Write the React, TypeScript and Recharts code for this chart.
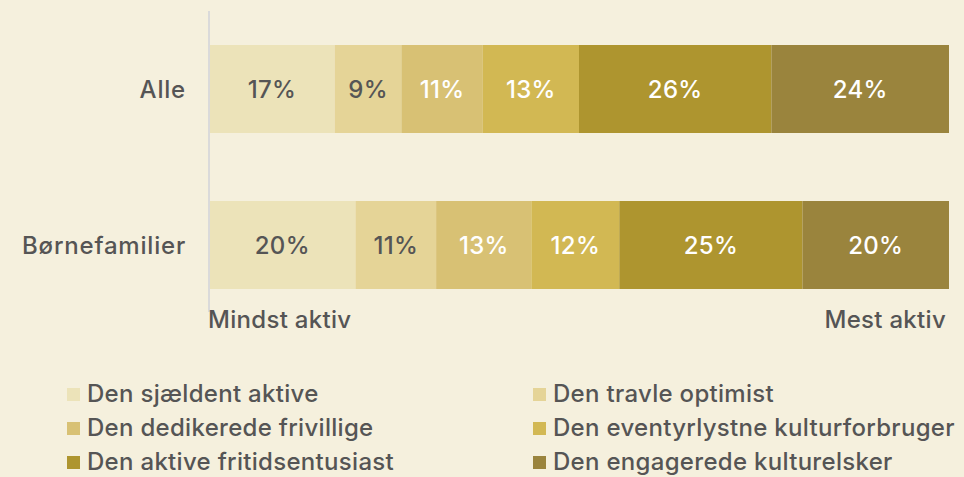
import { BarChart, Bar, XAxis, YAxis, LabelList } from "recharts";

const categories = ["Alle", "Børnefamilier"];

const seriesNames = [
  "Den sjældent aktive",
  "Den travle optimist",
  "Den dedikerede frivillige",
  "Den eventyrlystne kulturforbruger",
  "Den aktive fritidsentusiast",
  "Den engagerede kulturelsker",
];

const sjaeldent = [17, 20];
const travle = [9, 11];
const dedikerede = [11, 13];
const eventyr = [13, 12];
const aktive = [26, 25];
const engagerede = [24, 20];

const seriesValues = [sjaeldent, travle, dedikerede, eventyr, aktive, engagerede];
const colors = ["#ECE3B9", "#E5D497", "#D8C174", "#D2B853", "#AE952F", "#9A843D"];
const labelColors = ["#555555", "#555555", "#FFFFFF", "#FFFFFF", "#FFFFFF", "#FFFFFF"];

const axisEnds = ["Mindst aktiv", "Mest aktiv"];

const FONT = "Inter, 'Open Sans', sans-serif";

const data = categories.map((name, i) => {
  const row: Record<string, string | number> = { name };
  seriesValues.forEach((vals, s) => {
    row["s" + s] = vals[i];
  });
  return row;
});

const EndTick = (props: any) => {
  const { x, y, payload, index } = props;
  return (
    <text
      x={index === 0 ? x - 1 : x - 3}
      y={y + 16}
      textAnchor={index === 0 ? "start" : "end"}
      fill="#555555"
      fontSize={24}
      fontFamily={FONT}
      fontWeight={500}
      letterSpacing={0.3}
    >
      {axisEnds[index] ?? payload.value}
    </text>
  );
};

const App = () => {
  return (
    <div
      style={{
        position: "absolute",
        left: 0,
        top: 0,
        width: 964,
        height: 477,
        background: "#F5F0DD",
        overflow: "hidden",
        fontFamily: FONT,
      }}
    >
      <BarChart
        width={964}
        height={340}
        data={data}
        layout="vertical"
        stackOffset="expand"
        margin={{ top: 11, right: 15, bottom: 0, left: 0 }}
      >
        <XAxis
          type="number"
          domain={[0, 1]}
          ticks={[0, 1]}
          axisLine={false}
          tickLine={false}
          tickSize={0}
          tickMargin={0}
          height={28}
          tick={<EndTick />}
        />
        <YAxis
          type="category"
          dataKey="name"
          width={209}
          axisLine={{ stroke: "#DADADA", strokeWidth: 2 }}
          tickLine={false}
          tickSize={0}
          tickMargin={23}
          padding={{ top: 0, bottom: -11 }}
          tick={{
            fill: "#555555",
            fontSize: 24,
            fontFamily: FONT,
            fontWeight: 500,
            letterSpacing: 0.8,
          }}
        />
        {seriesNames.map((n, s) => (
          <Bar
            key={n}
            dataKey={"s" + s}
            name={n}
            stackId="a"
            fill={colors[s]}
            barSize={88}
            isAnimationActive={false}
          >
            <LabelList
              dataKey={"s" + s}
              position="center"
              fill={labelColors[s]}
              fontSize={24}
              fontFamily={FONT}
              fontWeight={500}
              letterSpacing={0.3}
              formatter={(v: any) => `${v}%`}
            />
          </Bar>
        ))}
      </BarChart>
      <div
        style={{
          position: "absolute",
          left: 67,
          top: 382,
          display: "grid",
          gridTemplateColumns: "466px auto",
          rowGap: 10,
        }}
      >
        {seriesNames.map((n, s) => (
          <div
            key={n}
            style={{ display: "flex", alignItems: "center", height: 24 }}
          >
            <span
              style={{
                display: "inline-block",
                width: 13,
                height: 13,
                background: colors[s],
                marginRight: 7,
              }}
            />
            <span
              style={{
                fontSize: 24,
                lineHeight: "24px",
                fontWeight: 500,
                letterSpacing: 0.3,
                color: "#555555",
                whiteSpace: "nowrap",
              }}
            >
              {n}
            </span>
          </div>
        ))}
      </div>
    </div>
  );
};

export default App;
